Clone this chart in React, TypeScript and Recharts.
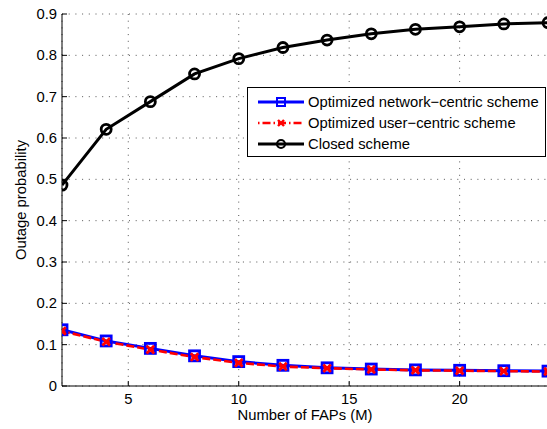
import React from 'react';
import { LineChart, Line, XAxis, YAxis, CartesianGrid, Legend } from 'recharts';

// Number of femto access points (M)
const fapCounts = [2, 4, 6, 8, 10, 12, 14, 16, 18, 20, 22, 24];
// Outage probability per scheme
const networkCentric = [0.136, 0.109, 0.091, 0.073, 0.059, 0.05, 0.044, 0.041, 0.039, 0.038, 0.037, 0.036];
const userCentric = [0.133, 0.107, 0.088, 0.07, 0.056, 0.047, 0.043, 0.04, 0.038, 0.037, 0.036, 0.035];
const closedScheme = [0.486, 0.621, 0.688, 0.755, 0.792, 0.819, 0.837, 0.852, 0.863, 0.869, 0.876, 0.879];

const xTicks = [5, 10, 15, 20];
const yTicks = [0, 0.1, 0.2, 0.3, 0.4, 0.5, 0.6, 0.7, 0.8, 0.9];
const xDomain: [number, number] = [2, 24];
const yDomain: [number, number] = [0, 0.9];

const seriesNames = [
  'Optimized network\u2212centric scheme',
  'Optimized user\u2212centric scheme',
  'Closed scheme',
];

const data = fapCounts.map((m, i) => ({
  m,
  net: networkCentric[i],
  user: userCentric[i],
  closed: closedScheme[i],
}));

const FONT = '"Liberation Sans", Arial, Helvetica, sans-serif';
const FS = 14.8;
const TICK_LEN = 5;

const BLUE = '#0000ff';
const RED = '#ff0000';
const BLACK = '#000000';

const fmtY = (v: number) => (v === 0 ? '0' : v.toFixed(1));

const BottomTick = (p: any) => (
  <g>
    <line x1={p.x} x2={p.x} y1={p.y} y2={p.y - TICK_LEN} stroke="#000" strokeWidth={1} />
    <text x={p.x} y={p.y + 18} textAnchor="middle" fontFamily={FONT} fontSize={FS} fill="#000">
      {p.payload.value}
    </text>
  </g>
);

const TopTick = (p: any) => (
  <line x1={p.x} x2={p.x} y1={p.y} y2={p.y + TICK_LEN} stroke="#000" strokeWidth={1} />
);

const LeftTick = (p: any) => (
  <g>
    <line x1={p.x} x2={p.x + TICK_LEN} y1={p.y} y2={p.y} stroke="#000" strokeWidth={1} />
    <text x={p.x - 5} y={p.y + 5} textAnchor="end" fontFamily={FONT} fontSize={FS} fill="#000">
      {fmtY(p.payload.value)}
    </text>
  </g>
);

const RightTick = (p: any) => (
  <line x1={p.x} x2={p.x - TICK_LEN} y1={p.y} y2={p.y} stroke="#000" strokeWidth={1} />
);

const SquareDot = (p: any) => {
  const { cx, cy, index } = p;
  if (cx == null || cy == null) return <g key={`sq-${index}`} />;
  return (
    <rect
      key={`sq-${index}`}
      x={cx - 5}
      y={cy - 5}
      width={10}
      height={10}
      fill="none"
      stroke={BLUE}
      strokeWidth={2.8}
    />
  );
};

const CrossDot = (p: any) => {
  const { cx, cy, index } = p;
  if (cx == null || cy == null) return <g key={`x-${index}`} />;
  const s = 3.8;
  return (
    <g key={`x-${index}`}>
      <line x1={cx - s} y1={cy - s} x2={cx + s} y2={cy + s} stroke={RED} strokeWidth={2.8} />
      <line x1={cx - s} y1={cy + s} x2={cx + s} y2={cy - s} stroke={RED} strokeWidth={2.8} />
    </g>
  );
};

const CircleDot = (p: any) => {
  const { cx, cy, index } = p;
  if (cx == null || cy == null) return <g key={`o-${index}`} />;
  return <circle key={`o-${index}`} cx={cx} cy={cy} r={5} fill="none" stroke={BLACK} strokeWidth={2.8} />;
};

const legendIcons = [
  (cx: number, cy: number) => (
    <g>
      <line x1={cx - 23} x2={cx + 23} y1={cy} y2={cy} stroke={BLUE} strokeWidth={2.8} />
      <rect x={cx - 4} y={cy - 4} width={8} height={8} fill="none" stroke={BLUE} strokeWidth={2} />
    </g>
  ),
  (cx: number, cy: number) => (
    <g>
      <line x1={cx - 23} x2={cx + 23} y1={cy} y2={cy} stroke={RED} strokeWidth={2.6} strokeDasharray="1.5 3 8 3" />
      <line x1={cx - 3} y1={cy - 3} x2={cx + 3} y2={cy + 3} stroke={RED} strokeWidth={2.4} />
      <line x1={cx - 3} y1={cy + 3} x2={cx + 3} y2={cy - 3} stroke={RED} strokeWidth={2.4} />
    </g>
  ),
  (cx: number, cy: number) => (
    <g>
      <line x1={cx - 23} x2={cx + 23} y1={cy} y2={cy} stroke={BLACK} strokeWidth={2.8} />
      <circle cx={cx} cy={cy} r={4} fill="none" stroke={BLACK} strokeWidth={2.2} />
    </g>
  ),
];

const LegendBox = () => (
  <div
    style={{
      width: 299,
      height: 70,
      border: '1px solid #000',
      background: '#fff',
      boxSizing: 'border-box',
      paddingTop: 4,
    }}
  >
    {seriesNames.map((name, i) => (
      <div key={name} style={{ display: 'flex', alignItems: 'center', height: 20.7 }}>
        <svg width={60} height={20} style={{ display: 'block' }}>
          {legendIcons[i](33, 10)}
        </svg>
        <span style={{ fontFamily: FONT, fontSize: FS, color: '#000', whiteSpace: 'nowrap', marginLeft: 0 }}>
          {name}
        </span>
      </div>
    ))}
  </div>
);

export default function App() {
  return (
    <div
      style={{
        position: 'absolute',
        left: 0,
        top: 0,
        width: 547,
        height: 429,
        overflow: 'hidden',
        background: '#fff',
      }}
    >
      <LineChart width={549} height={429} data={data} margin={{ top: 14, right: 1, bottom: 0, left: 0 }}>
        <CartesianGrid
          xAxisId="bottom"
          yAxisId="left"
          stroke="#555"
          strokeWidth={1}
          strokeDasharray="1 5.7"
          fill="#fff"
        />
        <XAxis
          xAxisId="bottom"
          dataKey="m"
          type="number"
          domain={xDomain}
          ticks={xTicks}
          allowDataOverflow
          interval={0}
          height={43}
          tickSize={0}
          tickMargin={0}
          tick={BottomTick}
          axisLine={{ stroke: '#000', strokeWidth: 1 }}
          tickLine={false}
          label={{
            content: ({ viewBox }: any) => (
              <text
                x={viewBox.x + viewBox.width / 2}
                y={viewBox.y + 34}
                textAnchor="middle"
                fontFamily={FONT}
                fontSize={FS}
                fill="#000"
              >
                Number of FAPs (M)
              </text>
            ),
          }}
        />
        <XAxis
          xAxisId="top"
          orientation="top"
          dataKey="m"
          type="number"
          domain={xDomain}
          ticks={xTicks}
          allowDataOverflow
          interval={0}
          height={0}
          tickSize={0}
          tickMargin={0}
          tick={TopTick}
          axisLine={{ stroke: '#000', strokeWidth: 1 }}
          tickLine={false}
        />
        <YAxis
          yAxisId="left"
          type="number"
          domain={yDomain}
          ticks={yTicks}
          allowDataOverflow
          interval={0}
          width={62}
          tickSize={0}
          tickMargin={0}
          tick={LeftTick}
          axisLine={{ stroke: '#000', strokeWidth: 1 }}
          tickLine={false}
          label={{
            content: ({ viewBox }: any) => {
              const x = viewBox.x + 26;
              const y = viewBox.y + viewBox.height / 2;
              return (
                <text
                  x={x}
                  y={y}
                  transform={`rotate(-90 ${x} ${y})`}
                  textAnchor="middle"
                  fontFamily={FONT}
                  fontSize={FS}
                  fill="#000"
                >
                  Outage probability
                </text>
              );
            },
          }}
        />
        <YAxis
          yAxisId="right"
          orientation="right"
          type="number"
          domain={yDomain}
          ticks={yTicks}
          allowDataOverflow
          interval={0}
          width={0}
          tickSize={0}
          tickMargin={0}
          tick={RightTick}
          axisLine={{ stroke: '#000', strokeWidth: 1 }}
          tickLine={false}
        />
        <Legend
          layout="horizontal"
          verticalAlign="middle"
          align="center"
          content={() => <LegendBox />}
          wrapperStyle={{ position: 'absolute', left: 247, top: 87, width: 299, height: 70 }}
        />
        <Line
          xAxisId="bottom"
          yAxisId="left"
          dataKey="net"
          name={seriesNames[0]}
          stroke={BLUE}
          strokeWidth={3}
          dot={SquareDot}
          activeDot={false}
          isAnimationActive={false}
        />
        <Line
          xAxisId="bottom"
          yAxisId="left"
          dataKey="user"
          name={seriesNames[1]}
          stroke={RED}
          strokeWidth={2.6}
          strokeDasharray="8 3"
          dot={CrossDot}
          activeDot={false}
          isAnimationActive={false}
        />
        <Line
          xAxisId="bottom"
          yAxisId="left"
          dataKey="closed"
          name={seriesNames[2]}
          stroke={BLACK}
          strokeWidth={3}
          dot={CircleDot}
          activeDot={false}
          isAnimationActive={false}
        />
      </LineChart>
    </div>
  );
}
